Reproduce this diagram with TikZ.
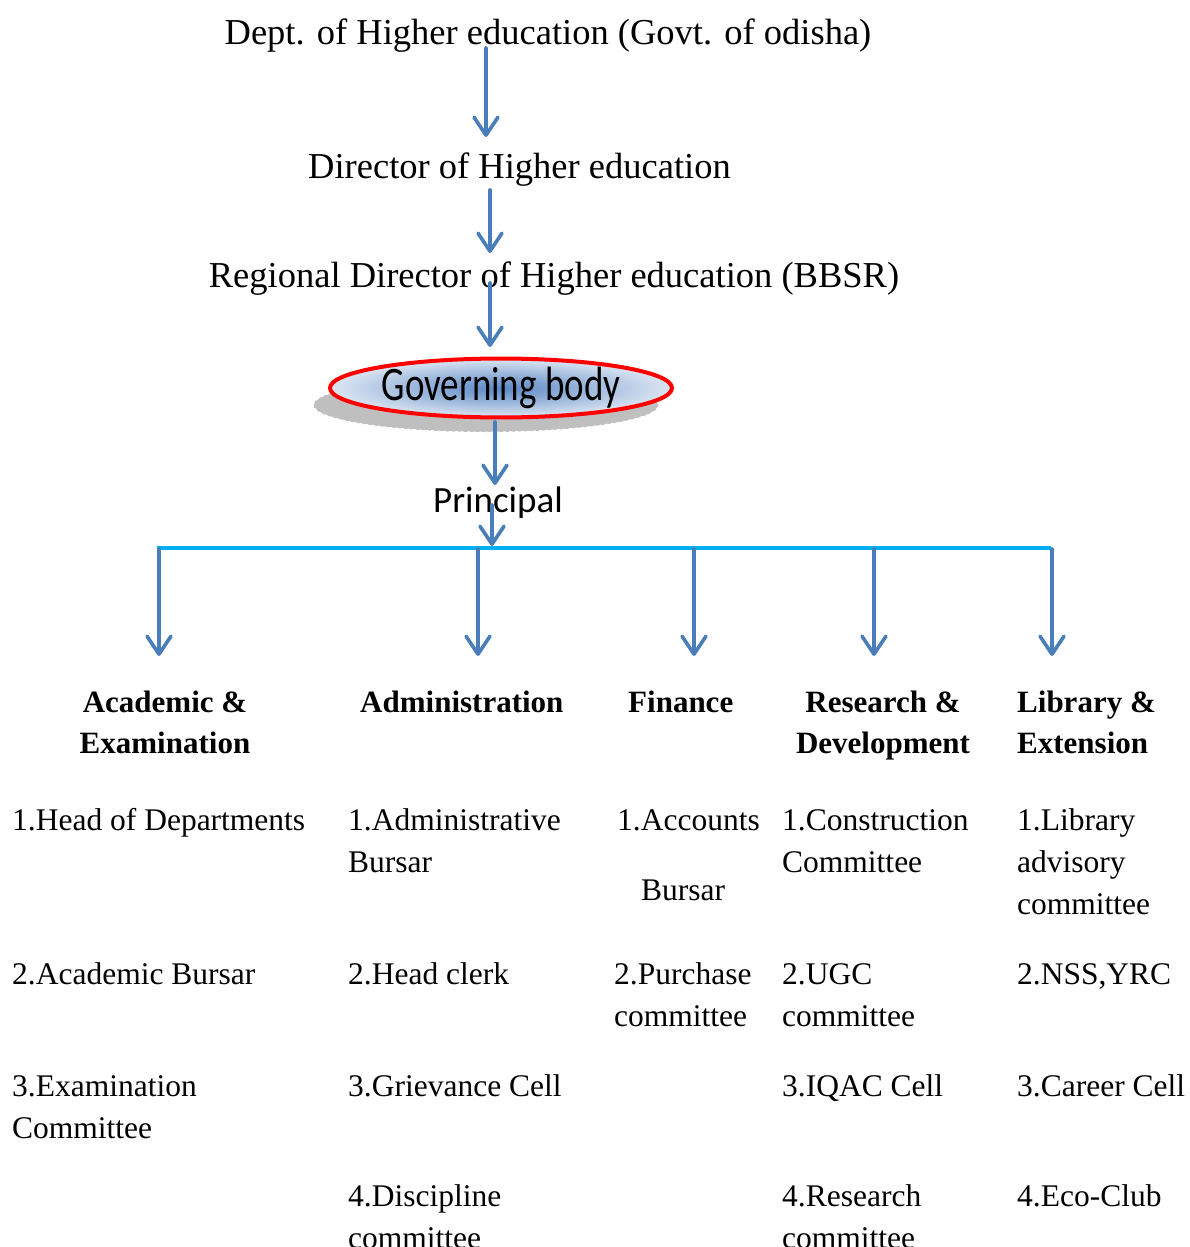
\documentclass[tikz,border=0pt]{standalone}
\usepackage{fontspec}
\setmainfont{Liberation Serif}
\newfontfamily\calib{Carlito}
\usetikzlibrary{arrows.meta,shapes.geometric}
\definecolor{arrowblue}{HTML}{4A7EBB}
\definecolor{buscyan}{HTML}{00B0F0}
\definecolor{shadowgray}{HTML}{BFBFBF}
\definecolor{ellinner}{HTML}{5B87C5}
\definecolor{ellouter}{HTML}{DCE6F2}
\begin{document}
\begin{tikzpicture}[x=1pt,y=-1pt,
  titletext/.style={font=\fontsize{36.5}{44}\selectfont, anchor=base, inner sep=0},
  headtext/.style={font=\bfseries\fontsize{31}{41}\selectfont, inner sep=0},
  itemtext/.style={font=\fontsize{31.5}{42}\selectfont, anchor=north west, inner sep=0, align=left},
  conn/.style={draw=arrowblue, line width=3.6pt, line cap=round,
    -{Straight Barb[length=18pt,width=24pt,line join=round,line cap=round]}},
  bus/.style={draw=buscyan, line width=4pt},
]
\useasboundingbox (0,0) rectangle (1189,1247);
\clip (0,0) rectangle (1189,1247);

% top chain
\node[titletext] (dept) at (548,45) {Dept. of Higher education (Govt. of odisha)};
\node[titletext] (dir) at (519.5,178) {Director of Higher education};
\node[titletext] (rdir) at (554,287) {Regional Director of Higher education (BBSR)};

\node[ellipse, fill=shadowgray, draw=white, dashed, line width=0.8pt,
  minimum width=345, minimum height=54, inner sep=0] (govshadow) at (486,405) {};
\node[ellipse, draw=red, line width=4pt, shading=radial, inner color=ellinner, outer color=ellouter,
  minimum width=342, minimum height=54, inner sep=0,
  font=\calib\fontsize{37}{44}\selectfont] (gov) at (501,388) {\scalebox{1}[1.3]{Governing body}};
\node[font=\calib\fontsize{37}{44}\selectfont, anchor=base, inner sep=0] (prin) at (498,512) {Principal};

\coordinate (a1s) at (486,48);  \coordinate (a1e) at (486,137);
\coordinate (a2s) at (490,190); \coordinate (a2e) at (490,253);
\coordinate (a3s) at (490,283); \coordinate (a3e) at (490,347);
\coordinate (a4s) at (495,422); \coordinate (a4e) at (495,485);
\coordinate (a5s) at (492,505); \coordinate (a5e) at (492,546);
\draw[conn] (a1s) -- (a1e);
\draw[conn] (a2s) -- (a2e);
\draw[conn] (a3s) -- (a3e);
\draw[conn] (a4s) -- (a4e);
\draw[conn] (a5s) -- (a5e);

% bus
\coordinate (busL) at (157,548);
\coordinate (busR) at (1051,548);
\draw[bus] (busL) -- (busR);
\foreach \i/\x in {1/159,2/478,3/694,4/874,5/1052}{
  \coordinate (d\i s) at (\x,549);
  \coordinate (d\i e) at (\x,656);
  \draw[conn] (d\i s) -- (d\i e);
}

% headings
\node[headtext, anchor=north, align=center] (hacad) at (165,683.3) {\strut Academic \&\\Examination};
\node[headtext, anchor=north west, align=left] (hadmin) at (360,683.3) {\strut Administration};
\node[headtext, anchor=north west, align=left] (hfin) at (628,683.3) {\strut Finance};
\node[headtext, anchor=north, align=center] (hres) at (883,683.3) {\strut Research \&\\Development};
\node[headtext, anchor=north west, align=left] (hlib) at (1017,683.3) {\strut Library \&\\Extension};

% column 1
\node[itemtext] (c1a) at (12,800.6) {\strut 1.Head of Departments};
\node[itemtext] (c1b) at (12,954.6) {\strut 2.Academic Bursar};
\node[itemtext] (c1c) at (12,1066.6) {\strut 3.Examination\\Committee};
% column 2
\node[itemtext] (c2a) at (348,800.6) {\strut 1.Administrative\\Bursar};
\node[itemtext] (c2b) at (348,954.6) {\strut 2.Head clerk};
\node[itemtext] (c2c) at (348,1066.6) {\strut 3.Grievance Cell};
\node[itemtext] (c2d) at (348,1176.6) {\strut 4.Discipline\\committee};
% column 3
\node[itemtext] (c3a) at (617,800.6) {\strut 1.Accounts};
\node[itemtext] (c3a2) at (641,870.6) {\strut Bursar};
\node[itemtext] (c3b) at (614,954.6) {\strut 2.Purchase\\committee};
% column 4
\node[itemtext] (c4a) at (782,800.6) {\strut 1.Construction\\Committee};
\node[itemtext] (c4b) at (782,954.6) {\strut 2.UGC\\committee};
\node[itemtext] (c4c) at (782,1066.6) {\strut 3.IQAC Cell};
\node[itemtext] (c4d) at (782,1176.6) {\strut 4.Research\\committee};
% column 5
\node[itemtext] (c5a) at (1017,800.6) {\strut 1.Library\\advisory\\committee};
\node[itemtext] (c5b) at (1017,954.6) {\strut 2.NSS,YRC};
\node[itemtext] (c5c) at (1017,1066.6) {\strut 3.Career Cell};
\node[itemtext] (c5d) at (1017,1176.6) {\strut 4.Eco-Club};
\end{tikzpicture}
\end{document}
